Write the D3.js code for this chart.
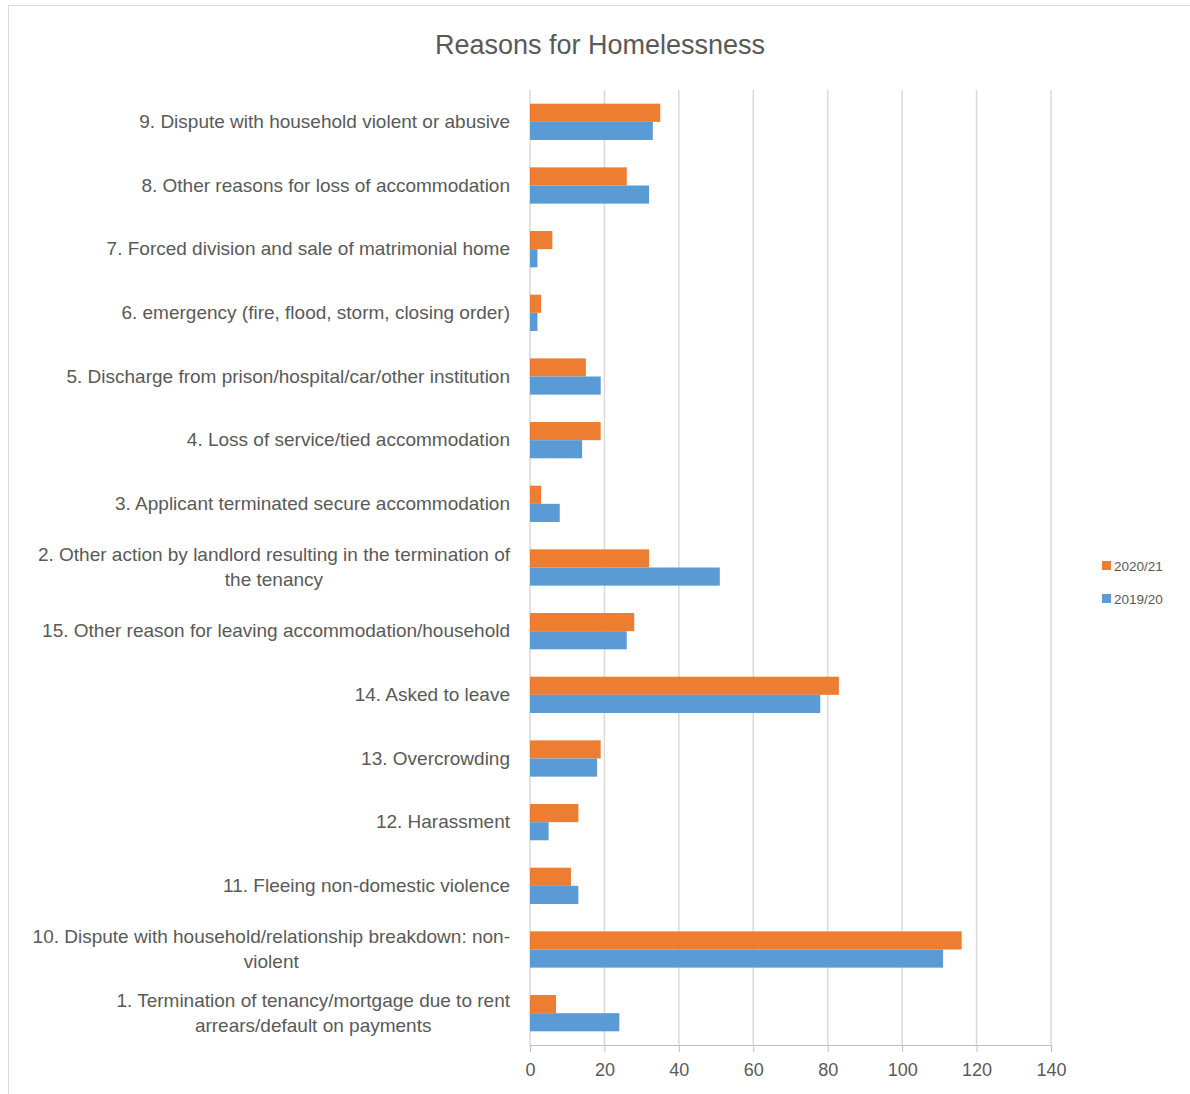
<!DOCTYPE html>
<html>
<head>
<meta charset="utf-8">
<script src="https://cdn.jsdelivr.net/npm/d3@7"></script>
<style>
  body { margin: 0; background: #fff; }
  text { font-family: "Liberation Sans", Arial, sans-serif; fill: #595959; }
</style>
</head>
<body>
<div id="chart"></div>
<script>
// Chart data (top to bottom as shown)
var categories = [
  "9. Dispute with household violent or abusive",
  "8. Other reasons for loss of accommodation",
  "7. Forced division and sale of matrimonial home",
  "6. emergency (fire, flood, storm, closing order)",
  "5. Discharge from prison/hospital/car/other institution",
  "4. Loss of service/tied accommodation",
  "3. Applicant terminated secure accommodation",
  "2. Other action by landlord resulting in the termination of\nthe tenancy",
  "15. Other reason for leaving accommodation/household",
  "14. Asked to leave",
  "13. Overcrowding",
  "12. Harassment",
  "11. Fleeing non-domestic violence",
  "10. Dispute with household/relationship breakdown: non-\nviolent",
  "1. Termination of tenancy/mortgage due to rent\narrears/default on payments"
];
var series = ["2020/21", "2019/20"];
var values2021 = [35, 26, 6, 3, 15, 19, 3, 32, 28, 83, 19, 13, 11, 116, 7];
var values1920 = [33, 32, 2, 2, 19, 14, 8, 51, 26, 78, 18, 5, 13, 111, 24];
var xTicks = [0, 20, 40, 60, 80, 100, 120, 140];
var colors = { "2020/21": "#ED7D31", "2019/20": "#5B9BD5" };

var svgWidth = 1190, svgHeight = 1094;
var plot = { left: 530, right: 1051, top: 90, bottom: 1045 };

var svg = d3.select("#chart").append("svg")
  .attr("width", svgWidth)
  .attr("height", svgHeight);

// chart frame
svg.append("rect")
  .attr("x", 8.5).attr("y", 5.5)
  .attr("width", 1200).attr("height", 1200)
  .attr("fill", "#fff")
  .attr("stroke", "#d9d9d9");

// title
svg.append("text")
  .attr("x", 600).attr("y", 54)
  .attr("text-anchor", "middle")
  .attr("font-size", 27)
  .text("Reasons for Homelessness");

var x = d3.scaleLinear().domain([0, 140]).range([plot.left, plot.right]);
var y = d3.scaleBand().domain(categories)
  .range([plot.top, plot.bottom])
  .paddingInner(0.43).paddingOuter(0.215);
var ySub = d3.scaleBand().domain(series).range([0, y.bandwidth()]);

// gridlines
svg.append("g").selectAll("line")
  .data(xTicks)
  .enter().append("line")
  .attr("x1", d => x(d)).attr("x2", d => x(d))
  .attr("y1", plot.top).attr("y2", plot.bottom)
  .attr("stroke", "#d9d9d9")
  .attr("stroke-width", 1.5);

// bars
var rows = categories.map(function(c, i) {
  return { cat: c, vals: [
    { s: "2020/21", v: values2021[i] },
    { s: "2019/20", v: values1920[i] }
  ] };
});

var groups = svg.append("g").selectAll("g")
  .data(rows)
  .enter().append("g")
  .attr("transform", d => `translate(0, ${y(d.cat)})`);

groups.selectAll("rect")
  .data(d => d.vals)
  .enter().append("rect")
  .attr("x", x(0))
  .attr("y", d => ySub(d.s))
  .attr("width", d => x(d.v) - x(0))
  .attr("height", ySub.bandwidth())
  .attr("fill", d => colors[d.s]);

// x axis
var xAxis = d3.axisBottom(x).tickValues(xTicks).tickSize(7).tickPadding(11);
var axisG = svg.append("g")
  .attr("transform", `translate(0, ${plot.bottom})`)
  .call(xAxis);
axisG.select(".domain").attr("stroke", "#bfbfbf").attr("stroke-width", 1.2);
axisG.selectAll(".tick line").attr("stroke", "#bfbfbf");
axisG.selectAll(".tick text")
  .attr("font-size", 18)
  .attr("font-family", "Liberation Sans, Arial, sans-serif")
  .attr("fill", "#595959");

// category labels
var labelG = svg.append("g");
categories.forEach(function(c) {
  var lines = c.split("\n");
  var cy = y(c) + y.bandwidth() / 2;
  var lineH = 25;
  var t = labelG.append("text")
    .attr("text-anchor", "end")
    .attr("font-size", 19);
  lines.forEach(function(l, i) {
    var offset = (i - (lines.length - 1) / 2) * lineH;
    t.append("tspan")
      .attr("x", 510)
      .attr("y", cy + offset + 6)
      .text(l);
  });
  // second lines of wrapped labels are centered under the first line
  if (lines.length > 1) {
    var w = t.select("tspan").node().getComputedTextLength();
    t.selectAll("tspan").filter((d, i) => i > 0)
      .attr("text-anchor", "middle")
      .attr("x", 510 - w / 2);
  }
});

// legend
var legend = svg.append("g").selectAll("g")
  .data(series)
  .enter().append("g")
  .attr("transform", (d, i) => `translate(1102, ${561 + i * 33})`);
legend.append("rect")
  .attr("width", 9).attr("height", 9)
  .attr("fill", d => colors[d]);
legend.append("text")
  .attr("x", 12).attr("y", 9.5)
  .attr("font-size", 13.5)
  .text(d => d);
</script>
</body>
</html>
